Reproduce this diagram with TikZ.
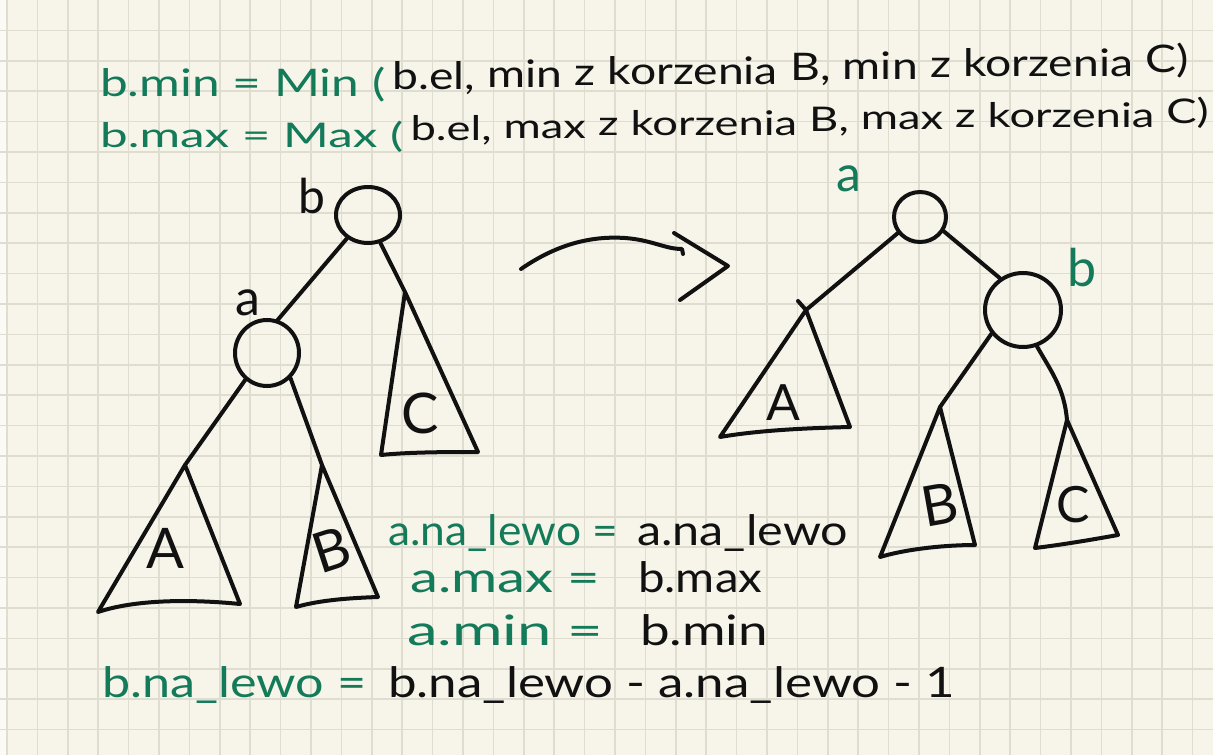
\documentclass[tikz,border=0pt]{standalone}
\usepackage{fontspec}
\setmainfont{Lato}
\usepackage{graphicx}
\usetikzlibrary{shapes.geometric,calc}
\definecolor{paper}{HTML}{F7F4E9}
\definecolor{gridc}{HTML}{DFDCD0}
\definecolor{grn}{HTML}{137A5A}
\definecolor{ink}{HTML}{111111}
\newcommand{\fw}[2]{\resizebox{#1}{\height}{#2}}
\newlength\tmpw
% word placed after the previous one, its baseline raised a little (rising line)
\newcommand{\nxt}[4]{\path let \p1=(#2.base east), \p2=(#2.base west) in
  node[txt, font={#3}] (#1) at (\x1,{\y1+0.0227*(\x1-\x2)}) {#4};}
\begin{document}
\settowidth{\tmpw}{\fontsize{38}{38}\selectfont b.el, min z korzenia B, min z korzenia C)}%
\pgfmathsetmacro\sxa{793/\tmpw}%
\settowidth{\tmpw}{\fontsize{34}{34}\selectfont b.el, max z korzenia B, max z korzenia C)}%
\pgfmathsetmacro\sxb{795/\tmpw}%
\begin{tikzpicture}[x=1pt,y=-1pt,
  pen/.style={draw=ink, line width=4pt, line cap=round, line join=round},
  nd/.style={ellipse, draw=ink, line width=4pt, inner sep=0pt},
  txt/.style={inner sep=0pt, anchor=base west, text=ink},
  topa/.style={txt, font=\fontsize{38}{38}\selectfont},
  topb/.style={txt, font=\fontsize{34}{34}\selectfont},
  bot/.style={txt, font=\fontsize{42}{42}\selectfont},
  lbl/.style={inner sep=0pt, text=ink, font=\fontsize{48}{48}\selectfont},
  tri/.style={inner sep=0pt, text=ink, font=\fontsize{56}{56}\selectfont}]
\useasboundingbox (0,0) rectangle (1213,755);
\fill[paper] (0,0) rectangle (1213,755);
\fill[white!55!paper] (0,0) rectangle (6,755);
\foreach \i in {0,...,39} \draw[gridc, line width=1.6pt] ({7+30.4*\i},0) -- ({7+30.4*\i},755);
\foreach \j in {1,...,24} \draw[gridc, line width=1.6pt] (0,{30.4*\j}) -- (1213,{30.4*\j});

% top formulas (slightly rising to the right)
\def\fa{\fontsize{38}{38}\selectfont}
\def\fb{\fontsize{34}{34}\selectfont}
\node[topa, text=grn] (t1g) at (100,96) {\fw{285pt}{b.min = Min (}};
\nxt{w11}{t1g}{\fa}{\hspace{7pt}\scalebox{\sxa}[1]{b.el,}}
\nxt{w12}{w11}{\fa}{\scalebox{\sxa}[1]{\ min}}
\nxt{w13}{w12}{\fa}{\scalebox{\sxa}[1]{\ z}}
\nxt{w14}{w13}{\fa}{\scalebox{\sxa}[1]{\ korzenia}}
\nxt{w15}{w14}{\fa}{\scalebox{\sxa}[1]{\ B,}}
\nxt{w16}{w15}{\fa}{\scalebox{\sxa}[1]{\ min}}
\nxt{w17}{w16}{\fa}{\scalebox{\sxa}[1]{\ z}}
\nxt{w18}{w17}{\fa}{\scalebox{\sxa}[1]{\ korzenia}}
\nxt{w19}{w18}{\fa}{\scalebox{\sxa}[1]{\ C)}}

\node[topb, text=grn] (t2g) at (100,147) {\fw{303pt}{b.max = Max (}};
\nxt{w21}{t2g}{\fb}{\hspace{7pt}\scalebox{\sxb}[1]{b.el,}}
\nxt{w22}{w21}{\fb}{\scalebox{\sxb}[1]{\ max}}
\nxt{w23}{w22}{\fb}{\scalebox{\sxb}[1]{\ z}}
\nxt{w24}{w23}{\fb}{\scalebox{\sxb}[1]{\ korzenia}}
\nxt{w25}{w24}{\fb}{\scalebox{\sxb}[1]{\ B,}}
\nxt{w26}{w25}{\fb}{\scalebox{\sxb}[1]{\ max}}
\nxt{w27}{w26}{\fb}{\scalebox{\sxb}[1]{\ z}}
\nxt{w28}{w27}{\fb}{\scalebox{\sxb}[1]{\ korzenia}}
\nxt{w29}{w28}{\fb}{\scalebox{\sxb}[1]{\ C)}}

% left tree
\node[nd, minimum width=64pt, minimum height=56pt] (bL) at (368,215) {};
\node[nd, minimum width=64pt, minimum height=66pt] (aL) at (267,353) {};
\node[lbl] (lb) at (312,196) {b};
\node[lbl, font=\fontsize{50}{50}\selectfont] (la) at (248,303) {a};
\coordinate (LAap) at (185,465);
\coordinate (LBap) at (322,465);
\coordinate (LCap) at (405,292);
\draw[pen] (bL.228) -- (aL.72);
\draw[pen] (bL.294) -- (LCap);
\draw[pen] (aL.231) -- (LAap);
\draw[pen] (aL.313) -- (LBap);
\draw[pen] (LAap) -- (98,612) .. controls (140,598) and (200,600) .. (240,604) -- cycle;
\draw[pen] (LBap) -- (296,607) .. controls (320,600) and (350,598) .. (378,597) -- cycle;
\draw[pen] (LCap) -- (381,455) .. controls (410,452) and (450,452) .. (478,452) -- cycle;
\node[tri] (lA) at (165,548) {A};
\node[tri, rotate=18] (lB) at (332,550) {B};
\node[tri] (lC) at (420,413) {C};

% arrow
\coordinate (arS) at (521,269);
\coordinate (arE) at (683,254);
\coordinate (arT) at (728,266);
\draw[pen] (arS) .. controls (560,242) and (595,236) .. (625,238) .. controls (652,240) and (665,249) .. (682,249) -- (arE);
\draw[pen] (674,233) -- (arT) -- (680,300);

% right tree
\node[nd, minimum width=52pt, minimum height=50pt] (aR) at (920,217) {};
\node[nd, minimum width=76pt, minimum height=74pt] (bR) at (1023,310) {};
\node[lbl, text=grn, font=\fontsize{50}{50}\selectfont] (ra) at (849,179) {a};
\node[lbl, text=grn, font=\fontsize{52}{52}\selectfont] (rb) at (1082,268) {b};
\coordinate (RAap) at (806,310);
\coordinate (RBap) at (940,407);
\coordinate (RCap) at (1067,420);
\draw[pen] (aR.216) -- (RAap);
\draw[pen] (aR.329) -- (bR.126);
\draw[pen] (bR.217) -- (RBap);
\draw[pen] (bR.291) to[out=-60,in=95] (RCap);
\draw[pen] (798,301) -- (RAap) -- (720,437) .. controls (760,430) and (810,428) .. (850,427) -- (RAap);
\draw[pen] (RBap) -- (880,557) .. controls (910,548) and (950,545) .. (975,545) -- cycle;
\draw[pen] (RCap) -- (1035,548) .. controls (1060,545) and (1090,540) .. (1118,535) -- cycle;
\node[tri, font=\fontsize{50}{50}\selectfont] (rA) at (783,403) {A};
\node[tri, rotate=10] (rB) at (940,505) {B};
\node[tri, font=\fontsize{50}{50}\selectfont] (rC) at (1073,505) {C};

% bottom formulas
\node[bot] (t3) at (388,545)
  {\fw{230pt}{\color{grn}a.na\_lewo =}\hspace{19pt}\fw{211pt}{a.na\_lewo}};
\node[bot] (t4) at (410,592)
  {\fw{190pt}{\color{grn}a.max =}\hspace{38pt}\fw{124pt}{b.max}};
\node[bot] (t5) at (407,645)
  {\fw{196pt}{\color{grn}a.min =}\hspace{37pt}\fw{128pt}{b.min}};
\node[bot] (t6) at (102,697)
  {\fw{264pt}{\color{grn}b.na\_lewo =}\hspace{22pt}\fw{567pt}{b.na\_lewo - a.na\_lewo - 1}};
\end{tikzpicture}
\end{document}
